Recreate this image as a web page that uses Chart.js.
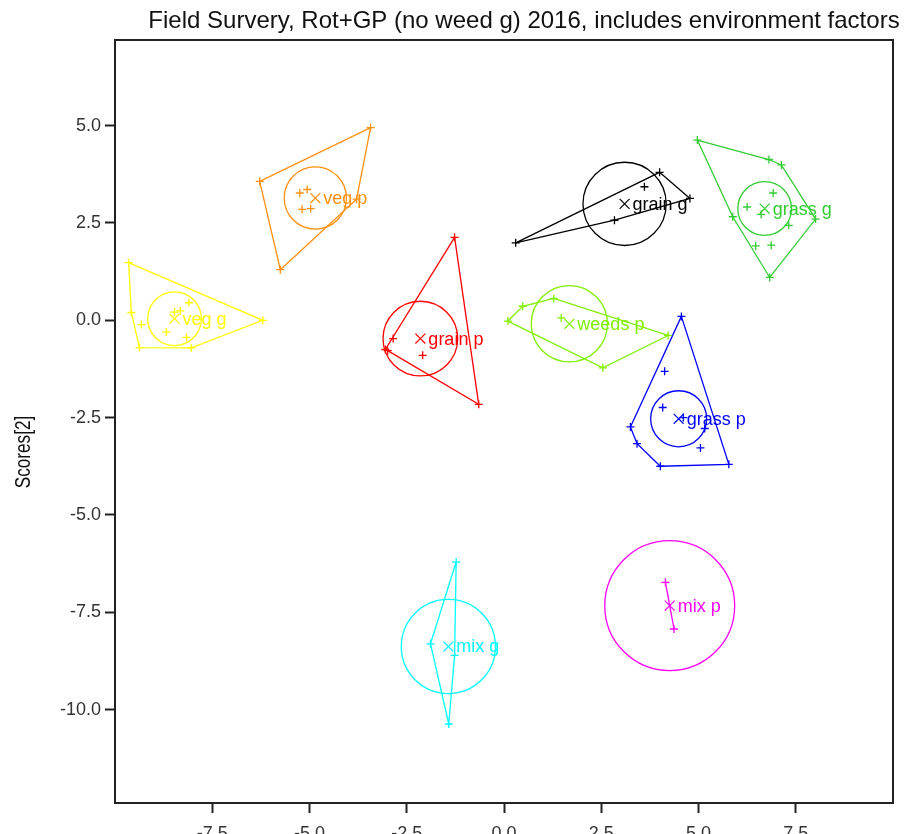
<!DOCTYPE html>
<html>
<head>
<meta charset="utf-8">
<script src="https://cdn.jsdelivr.net/npm/chart.js@4"></script>
<style>
  html, body { margin: 0; padding: 0; background: #fff; overflow: hidden; }
  canvas { display: block; }
</style>
</head>
<body>
<canvas id="chart" width="906" height="860"></canvas>
<script>
// group names, in drawing order
const groups = ['veg g', 'veg p', 'grain p', 'grain g', 'weeds p', 'grass p', 'grass g', 'mix g', 'mix p'];
const colors = ['#ffff00', '#ff9010', '#ff0000', '#000000', '#80ee00', '#0000ff', '#33cc33', '#00ffff', '#ff00ff'];

// sample scores [x, y] per group
const vegG = [[-9.65, 1.48], [-9.58, 0.20], [-9.37, -0.70], [-8.04, -0.71], [-6.20, 0.00], [-8.10, 0.45], [-8.47, 0.21], [-8.32, 0.24], [-9.32, -0.11], [-8.68, -0.30], [-8.16, -0.44]];
const vegP = [[-3.43, 4.95], [-6.28, 3.57], [-5.75, 1.30], [-3.79, 3.11], [-5.25, 3.27], [-5.06, 3.36], [-5.19, 2.85], [-4.97, 2.87]];
const grainP = [[-1.27, 2.13], [-3.05, -0.75], [-2.99, -0.78], [-0.65, -2.16], [-2.85, -0.47], [-2.09, -0.90]];
const grainG = [[0.30, 1.99], [4.00, 3.80], [4.78, 3.13], [2.84, 2.57], [3.61, 3.43]];
const weedsP = [[0.10, -0.02], [0.48, 0.36], [1.28, 0.56], [4.22, -0.39], [2.54, -1.22], [1.47, 0.06]];
const grassP = [[4.56, 0.10], [3.25, -2.74], [3.42, -3.17], [4.02, -3.75], [5.78, -3.70], [4.13, -1.31], [4.08, -2.24], [4.61, -2.50], [5.16, -2.78], [5.05, -3.28]];
const grassG = [[4.97, 4.63], [6.81, 4.13], [7.13, 3.99], [8.01, 2.60], [6.83, 1.10], [5.88, 2.66], [6.92, 3.27], [6.25, 2.91], [6.61, 2.72], [7.32, 2.44], [6.47, 1.91], [6.87, 1.93]];
const mixG = [[-1.23, -6.21], [-1.89, -8.31], [-1.42, -10.37], [-1.27, -8.61]];
const mixP = [[4.15, -6.73], [4.37, -7.93]];

// convex hull vertices (indices into the points above)
const vegGHull = [0, 4, 3, 2, 1];
const vegPHull = [0, 1, 2, 3];
const grainPHull = [0, 1, 2, 3];
const grainGHull = [0, 1, 2, 3];
const weedsPHull = [0, 1, 2, 3, 4];
const grassPHull = [0, 1, 2, 3, 4];
const grassGHull = [0, 1, 2, 3, 4, 5];
const mixGHull = [0, 1, 2, 3];
const mixPHull = [0, 1];

// group centroids and circle radius (score units)
const centroidX = [-8.47, -4.85, -2.15, 3.10, 1.68, 4.49, 6.70, -1.43, 4.26];
const centroidY = [0.04, 3.14, -0.47, 2.99, -0.09, -2.53, 2.87, -8.38, -7.33];
const circleR = [0.69, 0.80, 0.96, 1.07, 0.98, 0.72, 0.69, 1.21, 1.67];

const xTicks = [-7.5, -5.0, -2.5, 0.0, 2.5, 5.0, 7.5];
const yTicks = [-10.0, -7.5, -5.0, -2.5, 0.0, 2.5, 5.0];

const titleText = 'Field Survery, Rot+GP (no weed g) 2016, includes environment factors';
const yTitle = 'Scores[2]';

const points = [vegG, vegP, grainP, grainG, weedsP, grassP, grassG, mixG, mixP];
const hulls = [vegGHull, vegPHull, grainPHull, grainGHull, weedsPHull, grassPHull, grassGHull, mixGHull, mixPHull];

const FONT = '"Liberation Sans", Arial, sans-serif';

const datasets = [];
groups.forEach((name, i) => {
  const pts = points[i].map(p => ({ x: p[0], y: p[1] }));
  const hull = hulls[i].map(k => pts[k]);
  if (hull.length > 2) hull.push(hull[0]);
  datasets.push({
    label: name + ' hull',
    data: hull,
    showLine: true,
    borderColor: colors[i],
    borderWidth: 1.3,
    pointRadius: 0,
    fill: false
  });
  datasets.push({
    label: name,
    data: pts,
    showLine: false,
    pointStyle: 'cross',
    pointRadius: 4,
    pointBorderWidth: 1.3,
    borderColor: colors[i],
    backgroundColor: colors[i]
  });
  datasets.push({
    label: name + ' centroid',
    data: [{ x: centroidX[i], y: centroidY[i] }],
    showLine: false,
    pointStyle: 'crossRot',
    pointRadius: 7,
    pointBorderWidth: 1.2,
    borderColor: colors[i],
    backgroundColor: colors[i]
  });
});

const extras = {
  id: 'extras',
  afterDatasetsDraw(chart) {
    const { ctx, chartArea: a, scales: { x, y } } = chart;
    ctx.save();
    ctx.beginPath();
    ctx.rect(a.left, a.top, a.right - a.left, a.bottom - a.top);
    ctx.clip();
    groups.forEach((name, i) => {
      const cx = x.getPixelForValue(centroidX[i]);
      const cy = y.getPixelForValue(centroidY[i]);
      const r = x.getPixelForValue(centroidX[i] + circleR[i]) - cx;
      ctx.strokeStyle = colors[i];
      ctx.lineWidth = 1.3;
      ctx.beginPath();
      ctx.arc(cx, cy, r, 0, Math.PI * 2);
      ctx.stroke();
      ctx.fillStyle = colors[i];
      ctx.font = '18px ' + FONT;
      ctx.textBaseline = 'middle';
      ctx.textAlign = 'left';
      ctx.fillText(name, cx + 8, cy + 1);
    });
    ctx.restore();
  },
  afterDraw(chart) {
    const { ctx, chartArea: a } = chart;
    ctx.save();
    ctx.strokeStyle = '#222';
    ctx.lineWidth = 2;
    ctx.strokeRect(a.left, a.top, a.right - a.left, a.bottom - a.top);
    ctx.fillStyle = '#111';
    ctx.font = '24px ' + FONT;
    ctx.textAlign = 'center';
    ctx.textBaseline = 'middle';
    ctx.fillText(titleText, 524, 21);
    ctx.translate(24, 452);
    ctx.rotate(-Math.PI / 2);
    ctx.scale(0.78, 1);
    ctx.font = '22px ' + FONT;
    ctx.fillText(yTitle, 0, 0);
    ctx.restore();
  }
};

const tickFont = { family: FONT, size: 18 };

new Chart(document.getElementById('chart'), {
  type: 'scatter',
  data: { datasets },
  options: {
    responsive: false,
    animation: false,
    events: [],
    layout: { padding: { top: 40, right: 13, left: 0, bottom: 0 } },
    plugins: { legend: { display: false }, tooltip: { enabled: false }, title: { display: false } },
    scales: {
      x: {
        type: 'linear',
        position: 'bottom',
        min: -10,
        max: 10,
        afterBuildTicks: s => { s.ticks = xTicks.map(v => ({ value: v })); },
        afterFit: s => { s.height = 57; },
        border: { display: false },
        grid: { drawOnChartArea: false, tickLength: 10, tickWidth: 2, tickColor: '#222' },
        ticks: { font: tickFont, color: '#333', padding: 10, maxRotation: 0, callback: v => v.toFixed(1) }
      },
      y: {
        type: 'linear',
        position: 'left',
        min: -12.4,
        max: 7.2,
        afterBuildTicks: s => { s.ticks = yTicks.map(v => ({ value: v })); },
        afterFit: s => { s.width = 115; },
        border: { display: false },
        grid: { drawOnChartArea: false, tickLength: 10, tickWidth: 2, tickColor: '#222' },
        ticks: { font: tickFont, color: '#333', padding: 4, callback: v => v.toFixed(1) }
      }
    }
  },
  plugins: [extras]
});
</script>
</body>
</html>
